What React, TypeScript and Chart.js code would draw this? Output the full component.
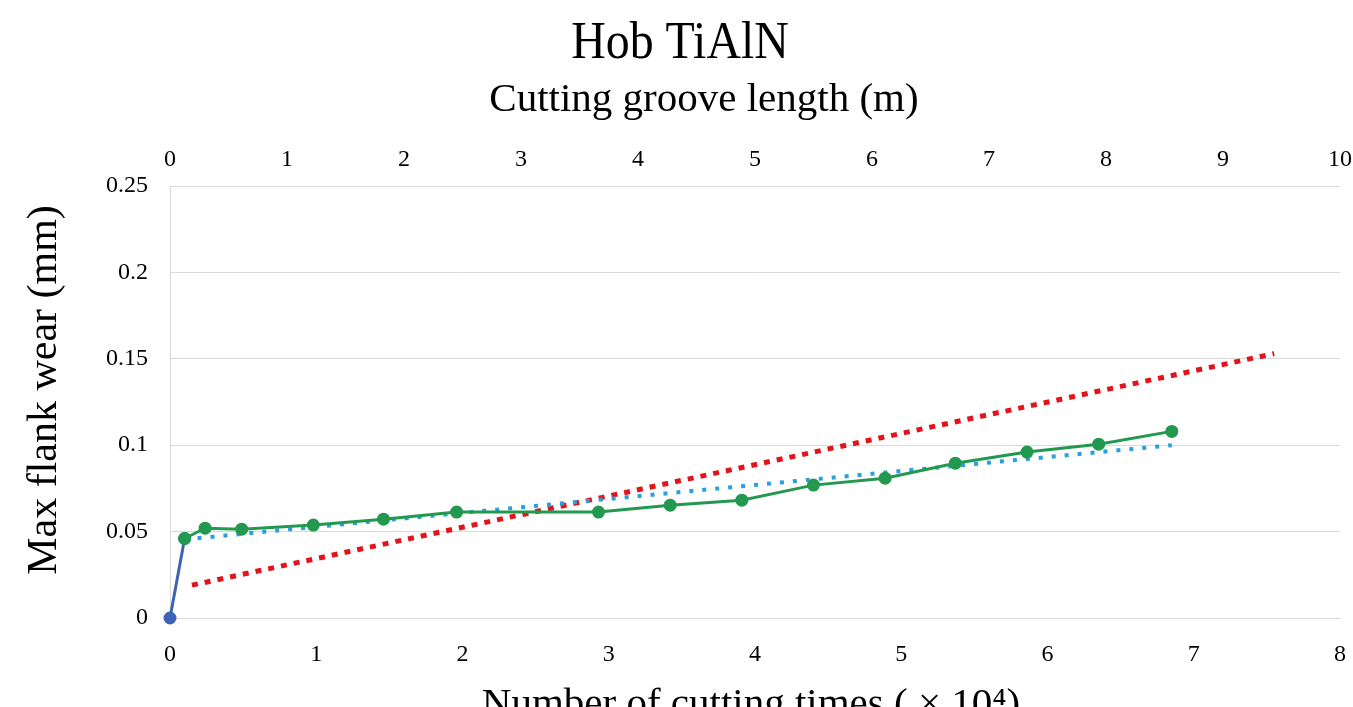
import React, { useEffect, useRef } from "react";
import { Chart, registerables } from "chart.js";

Chart.register(...registerables);

// Data
const cuttingTimes = [0.10, 0.24, 0.49, 0.98, 1.46, 1.96, 2.93, 3.42, 3.91, 4.40, 4.89, 5.37, 5.86, 6.35, 6.85];
const flankWear = [0.046, 0.052, 0.0514, 0.0538, 0.0572, 0.0613, 0.0613, 0.0653, 0.0682, 0.0769, 0.0809, 0.0896, 0.096, 0.1006, 0.108];
const initialX = [0, 0.10];
const initialY = [0, 0.046];
const trendBlueX = [0.10, 6.85];
const trendBlueY = [0.0455, 0.100];
const trendRedX = [0.15, 7.55];
const trendRedY = [0.019, 0.153];

const titleText = "Hob TiAlN";
const topAxisTitle = "Cutting groove length (m)";
const yAxisTitle = "Max flank wear (mm)";
const xAxisTitle = "Number of cutting times ( \u00d7 10\u2074)";

const FONT = "'Liberation Serif', 'Times New Roman', serif";

const pts = (xs: number[], ys: number[]) => xs.map((x, i) => ({ x, y: ys[i] }));

const textPlugin = {
  id: "texts",
  afterDraw(chart: any) {
    const ctx = chart.ctx;
    const ca = chart.chartArea;
    ctx.save();
    ctx.fillStyle = "#000";
    ctx.textAlign = "center";
    ctx.textBaseline = "middle";
    ctx.save();
    ctx.translate(680, 44);
    ctx.scale(0.92, 1);
    ctx.font = `52px ${FONT}`;
    ctx.fillText(titleText, 0, 0);
    ctx.restore();
    ctx.font = `41px ${FONT}`;
    ctx.fillText(topAxisTitle, 704, 100);
    ctx.textBaseline = "alphabetic";
    ctx.fillText(xAxisTitle, 751, 716);
    ctx.translate(45, 390);
    ctx.rotate(-Math.PI / 2);
    ctx.textBaseline = "middle";
    ctx.font = `42px ${FONT}`;
    ctx.fillText(yAxisTitle, 0, 0);
    ctx.restore();
  },
};

const noPad = (s: any) => {
  s.paddingLeft = 0;
  s.paddingRight = 0;
};

export default function App() {
  const ref = useRef<HTMLCanvasElement>(null);
  useEffect(() => {
    document.body.style.margin = "0";
    const chart = new Chart(ref.current!, {
      type: "line",
      data: {
        datasets: [
          {
            label: "red trend",
            data: pts(trendRedX, trendRedY),
            borderColor: "#e3131b",
            borderWidth: 5,
            borderDash: [6, 7],
            pointRadius: 0,
            fill: false,
            clip: false,
            order: 3,
          },
          {
            label: "blue trend",
            data: pts(trendBlueX, trendBlueY),
            borderColor: "#2a9fdc",
            borderWidth: 4,
            borderDash: [4, 9],
            pointRadius: 0,
            fill: false,
            clip: false,
            order: 2,
          },
          {
            label: "initial",
            data: pts(initialX, initialY),
            borderColor: "#3d63b5",
            backgroundColor: "#3d63b5",
            borderWidth: 3,
            pointRadius: 5,
            fill: false,
            clip: false,
            order: 1,
          },
          {
            label: "wear",
            data: pts(cuttingTimes, flankWear),
            borderColor: "#23994f",
            backgroundColor: "#23994f",
            borderWidth: 3,
            pointRadius: 5,
            fill: false,
            clip: false,
            order: 0,
          },
        ],
      },
      options: {
        animation: false,
        responsive: false,
        maintainAspectRatio: false,
        layout: { padding: { left: 0, right: 13, top: 0, bottom: 0 } },
        plugins: { legend: { display: false }, title: { display: false }, tooltip: { enabled: false } },
        scales: {
          x: {
            type: "linear",
            position: "bottom",
            min: 0,
            max: 8,
            ticks: { stepSize: 1, padding: 22, color: "#000", font: { family: FONT, size: 24 } },
            grid: { display: false, drawTicks: false },
            border: { display: true, color: "#d9d9d9", width: 1 },
            afterFit: (s: any) => { s.height = 89; noPad(s); },
          },
          x2: {
            type: "linear",
            position: "top",
            min: 0,
            max: 10,
            ticks: { stepSize: 1, padding: 12, color: "#000", font: { family: FONT, size: 24 } },
            grid: { display: false, drawTicks: false },
            border: { display: false },
            afterFit: (s: any) => { s.height = 186; noPad(s); },
          },
          y: {
            type: "linear",
            min: 0,
            max: 0.25,
            ticks: {
              stepSize: 0.05,
              padding: 22,
              color: "#000",
              font: { family: FONT, size: 24 },
              callback: (v: any) => String(Math.round(Number(v) * 100) / 100),
            },
            grid: { color: "#d9d9d9", drawTicks: false },
            border: { display: true, color: "#d9d9d9" },
            afterFit: (s: any) => { s.width = 170; s.paddingTop = 0; s.paddingBottom = 0; },
          },
        },
      },
      plugins: [textPlugin],
    } as any);
    return () => chart.destroy();
  }, []);
  return (
    <div style={{ position: "absolute", left: 0, top: 0, width: 1353, height: 707, background: "#fff" }}>
      <canvas ref={ref} width={1353} height={707} style={{ width: 1353, height: 707, display: "block" }} />
    </div>
  );
}
